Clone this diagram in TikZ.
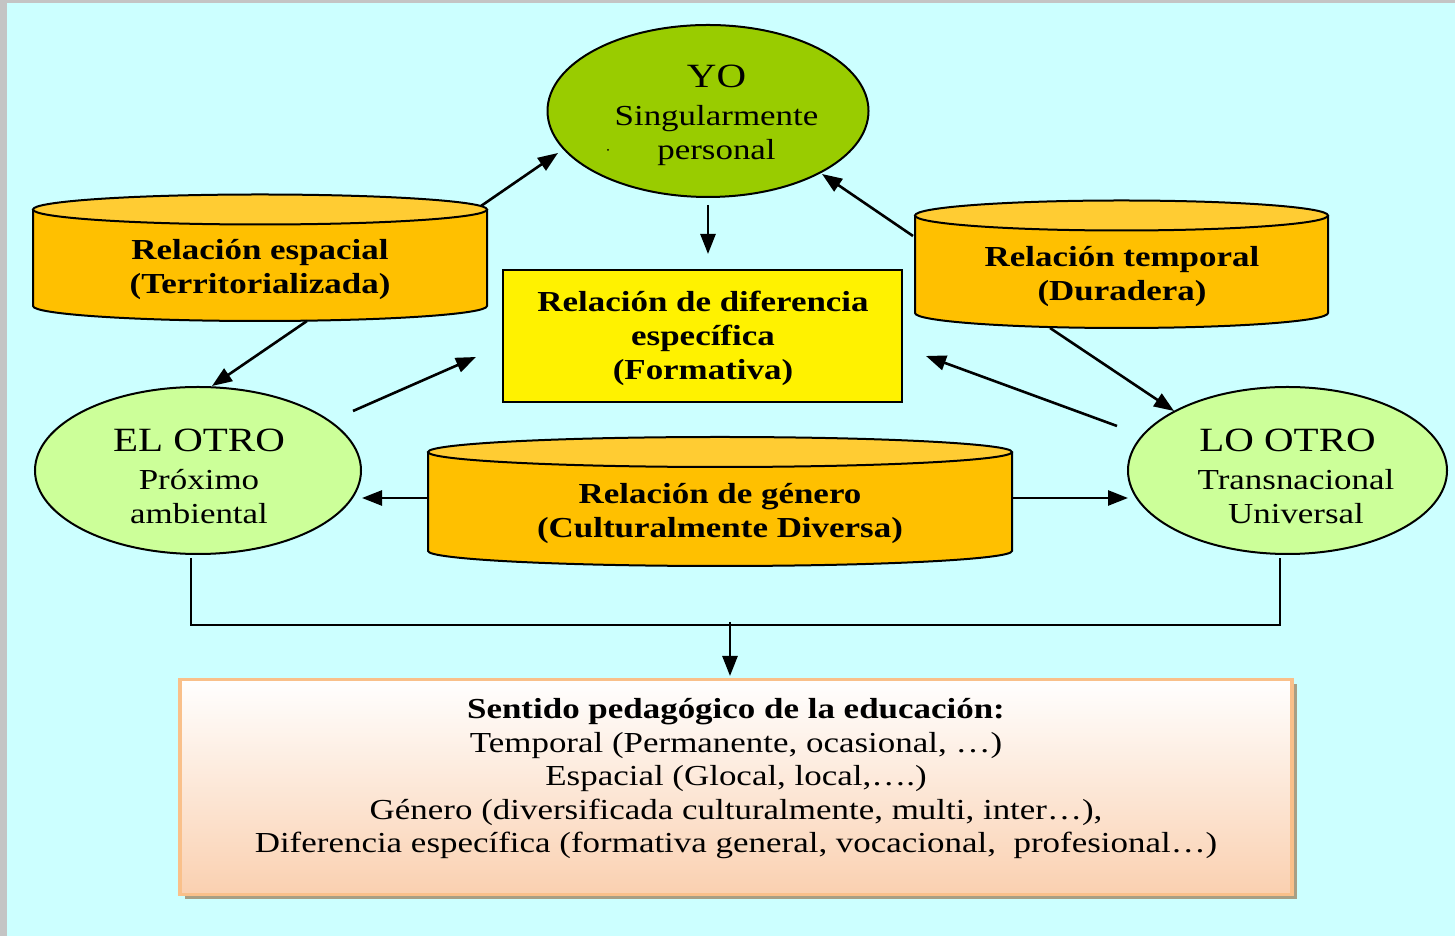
\documentclass[tikz,border=0pt]{standalone}
\usepackage{fontspec}
\setmainfont{Liberation Serif}[FakeStretch=1.205]
\usetikzlibrary{arrows.meta,shapes.geometric,calc}
\definecolor{bgcyan}{HTML}{CCFFFF}
\definecolor{frame}{HTML}{C4C4C4}
\definecolor{yogreen}{HTML}{99CC00}
\definecolor{otrogreen}{HTML}{CCFF99}
\definecolor{cylbody}{HTML}{FFC000}
\definecolor{cyltop}{HTML}{FFCC33}
\definecolor{boxborder}{HTML}{F9C08A}
\definecolor{boxbottom}{HTML}{FAD0B0}
\definecolor{boxshadow}{HTML}{A89F84}
\tikzset{
  oval/.style={ellipse, draw=black, line width=1pt, inner sep=0pt},
  ovaltext/.style={align=center, inner sep=0pt, font=\fontsize{14.5}{17}\selectfont},
  cyltext/.style={align=center, inner sep=0pt, font=\fontsize{14.5}{17}\selectfont\bfseries},
  arr/.style={line width=1.3pt, -{Triangle[length=10pt,width=7.5pt]}},
  bracketline/.style={line width=1.1pt},
  cylline/.style={draw=black, line width=1pt},
}
\begin{document}
\begin{tikzpicture}[x=0.5pt,y=0.5pt]
% frame and background
\fill[frame] (0,0) rectangle (1455,936);
\fill[bgcyan] (7,0) rectangle (1455,933);
\useasboundingbox (0,0) rectangle (1455,936);

% ---- cylinders (drawn shapes) ----
% espacial
\fill[cylbody] (33,726.5) -- (33,630) arc[start angle=180,end angle=360,x radius=113.5pt,y radius=7.5pt] -- (487,726.5) arc[start angle=0,end angle=180,x radius=113.5pt,y radius=7.5pt] -- cycle;
\draw[cylline] (33,726.5) -- (33,630) arc[start angle=180,end angle=360,x radius=113.5pt,y radius=7.5pt] -- (487,726.5);
\draw[cylline, fill=cyltop] (260,726.5) ellipse[x radius=113.5pt,y radius=7.5pt];
% temporal
\fill[cylbody] (915,720.5) -- (915,623) arc[start angle=180,end angle=360,x radius=103.25pt,y radius=7.5pt] -- (1328,720.5) arc[start angle=0,end angle=180,x radius=103.25pt,y radius=7.5pt] -- cycle;
\draw[cylline] (915,720.5) -- (915,623) arc[start angle=180,end angle=360,x radius=103.25pt,y radius=7.5pt] -- (1328,720.5);
\draw[cylline, fill=cyltop] (1121.5,720.5) ellipse[x radius=103.25pt,y radius=7.5pt];
% genero
\fill[cylbody] (428,484) -- (428,385) arc[start angle=180,end angle=360,x radius=146pt,y radius=7.5pt] -- (1012,484) arc[start angle=0,end angle=180,x radius=146pt,y radius=7.5pt] -- cycle;
\draw[cylline] (428,484) -- (428,385) arc[start angle=180,end angle=360,x radius=146pt,y radius=7.5pt] -- (1012,484);
\draw[cylline, fill=cyltop] (720,484) ellipse[x radius=146pt,y radius=7.5pt];

% ---- nodes ----
\node[oval, fill=yogreen, minimum width=160.5pt, minimum height=86pt] (yo) at (708,825) {};
\node[ovaltext] (yotext) at (716.5,820.5)
  {{\fontsize{17}{17}\selectfont YO}\\[2pt]Singularmente\\personal};
\fill (608,786) circle[radius=1];
\node[oval, fill=otrogreen, minimum width=163pt, minimum height=83.5pt] (elotro) at (198,465.5) {};
\node[ovaltext] (elotrotext) at (199,460)
  {{\fontsize{17}{17}\selectfont EL OTRO}\\[2pt]Próximo\\ambiental};
\node[oval, fill=otrogreen, minimum width=159.5pt, minimum height=83.5pt] (lootro) at (1287.5,465.5) {};
\node[ovaltext] (lootrotext) at (1296,460)
  {\hspace*{-8.5pt}{\fontsize{17}{17}\selectfont LO OTRO}\\[2pt]Transnacional\\Universal};
\node[draw=black, line width=1pt, fill=yellow, minimum width=199.5pt, minimum height=66pt,
  align=center, inner sep=0pt, font=\fontsize{14.5}{17}\selectfont\bfseries] (dif) at (702.5,600) {};
\node[cyltext] (diftext) at (703,598) {Relación de diferencia\\específica\\(Formativa)};
\node[cyltext] (esp) at (260,666) {Relación espacial\\(Territorializada)};
\node[cyltext] (tem) at (1122,659) {Relación temporal\\(Duradera)};
\node[cyltext] (gen) at (720,422) {Relación de género\\(Culturalmente Diversa)};

% bottom box
\fill[boxshadow] (185,37) rectangle (1297,252);
\node[draw=boxborder, line width=1.6pt, top color=white, bottom color=boxbottom,
  minimum width=556pt, minimum height=107.5pt, inner sep=0pt] (sentbox) at (736,149) {};
\node[align=center, inner sep=0pt, font=\fontsize{14.5}{16.75}\selectfont] (senttext) at (736,157)
  {\textbf{Sentido pedagógico de la educación:}\\
   Temporal (Permanente, ocasional, …)\\
   Espacial (Glocal, local,….)\\
   Género (diversificada culturalmente, multi, inter…),\\
   Diferencia específica (formativa general, vocacional,~ profesional…)};

% ---- connector end points ----
\coordinate (a1s) at (481,730); \coordinate (a1e) at (558,783);
\coordinate (a2s) at (708,731); \coordinate (a2e) at (708,682);
\coordinate (a3s) at (913,700); \coordinate (a3e) at (822,762);
\coordinate (a4s) at (307,615); \coordinate (a4e) at (212,550);
\coordinate (a5s) at (353,525); \coordinate (a5e) at (476,579);
\coordinate (a6s) at (1117,510); \coordinate (a6e) at (926,580);
\coordinate (a7s) at (1050,608); \coordinate (a7e) at (1174,525);
\coordinate (a8s) at (428,438); \coordinate (a8e) at (362,438);
\coordinate (a9s) at (1012,438); \coordinate (a9e) at (1128,438);
\coordinate (b1) at (191,378); \coordinate (b2) at (191,311);
\coordinate (b3) at (1280,311); \coordinate (b4) at (1280,378);
\coordinate (a10s) at (730,314); \coordinate (a10e) at (730,260);

\draw[arr] (a1s) -- (a1e);
\draw[arr] (a2s) -- (a2e);
\draw[arr] (a3s) -- (a3e);
\draw[arr] (a4s) -- (a4e);
\draw[arr] (a5s) -- (a5e);
\draw[arr] (a6s) -- (a6e);
\draw[arr] (a7s) -- (a7e);
\draw[arr] (a8s) -- (a8e);
\draw[arr] (a9s) -- (a9e);
\draw[bracketline] (b1) -- (b2) -- (b3) -- (b4);
\draw[arr] (a10s) -- (a10e);
\end{tikzpicture}
\end{document}
